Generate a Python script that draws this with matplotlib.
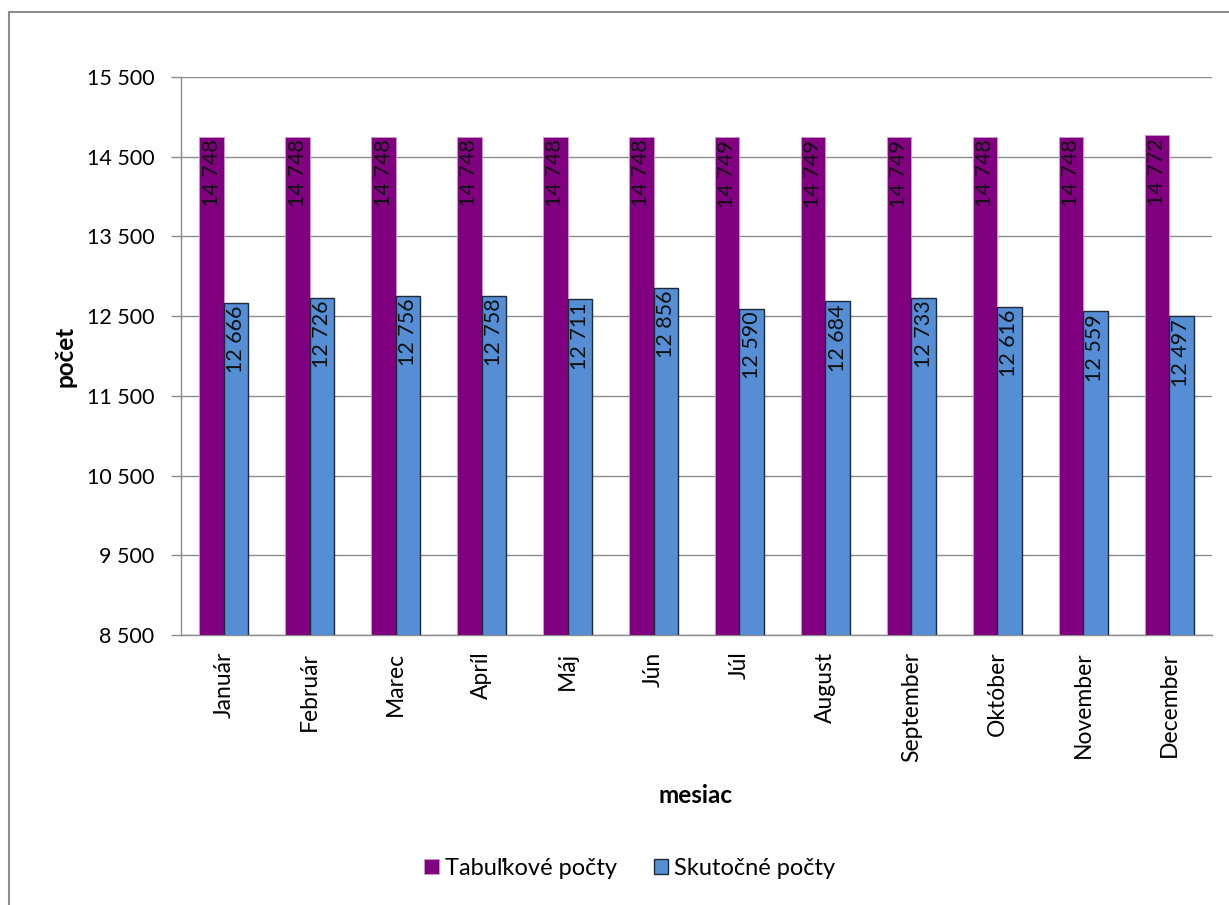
import numpy as np
import matplotlib.pyplot as plt
from matplotlib.lines import Line2D

months = ["Január", "Február", "Marec", "Apríl", "Máj", "Jún", "Júl",
          "August", "September", "Október", "November", "December"]
tabulkove = [14748, 14748, 14748, 14748, 14748, 14748, 14749,
             14749, 14749, 14748, 14748, 14772]
skutocne = [12666, 12726, 12756, 12758, 12711, 12856, 12590,
            12684, 12733, 12616, 12559, 12497]
yticks = [8500, 9500, 10500, 11500, 12500, 13500, 14500, 15500]

plt.rcParams['font.family'] = ['Lato', 'DejaVu Sans']


def fmt(v):
    return f"{v:,}".replace(",", " ")


fig = plt.figure(figsize=(12.29, 9.05), dpi=100)
ax = fig.add_axes([181 / 1229, 1 - 635 / 905, 1031 / 1229, 558 / 905])

x = np.arange(len(months))
w = 0.285
b1 = ax.bar(x - w / 2, tabulkove, w, color='#800080', edgecolor='#c99ac9',
            linewidth=0.6, label="Tabuľkové počty", zorder=3)
b2 = ax.bar(x + w / 2, skutocne, w, color='#558ed5', edgecolor='#1c2a3a',
            linewidth=1.0, label="Skutočné počty", zorder=3)

for bars, vals in ((b1, tabulkove), (b2, skutocne)):
    for r, v in zip(bars, vals):
        ax.annotate(fmt(v), (r.get_x() + r.get_width() / 2, r.get_height()),
                    xytext=(0, -2), textcoords='offset points',
                    rotation=90, ha='center', va='top', fontsize=15.5,
                    color='#111111', zorder=4)

ax.set_ylim(8500, 15500)
ax.set_xlim(-0.5, len(months) - 0.5)
ax.set_yticks(yticks)
ax.set_yticklabels([fmt(v) for v in yticks], fontsize=15.5)
ax.set_xticks(x)
ax.set_xticklabels(months, rotation=90, fontsize=16.5)
ax.tick_params(axis='x', length=0, pad=12)
ax.tick_params(axis='y', length=7, width=1, color='#8c8c8c', pad=12)
ax.grid(axis='y', color='#8c8c8c', linewidth=1, zorder=0)
ax.set_axisbelow(True)
for s in ('top', 'right'):
    ax.spines[s].set_visible(False)
for s in ('left', 'bottom'):
    ax.spines[s].set_color('#8c8c8c')
    ax.spines[s].set_linewidth(1)

fig.text(696 / 1229, 1 - 795 / 905, "mesiac", ha='center', va='center',
         fontsize=17.5, fontweight='bold')
fig.text(65 / 1229, 1 - 356 / 905, "počet", ha='center', va='center',
         rotation=90, fontsize=17.5, fontweight='bold')

fig.legend(loc='center', bbox_to_anchor=(630 / 1229, 1 - 868 / 905), ncol=2,
           frameon=False, fontsize=17, handlelength=0.6, handleheight=0.6,
           handletextpad=0.25, columnspacing=1.6)

fig.add_artist(Line2D([9 / 1229, 9 / 1229], [0, 1 - 12 / 905],
                      transform=fig.transFigure, color='#8c8c8c', lw=1.5))
fig.add_artist(Line2D([9 / 1229, 1], [1 - 12 / 905, 1 - 12 / 905],
                      transform=fig.transFigure, color='#8c8c8c', lw=1.5))

fig.savefig("out.png", dpi=100)
